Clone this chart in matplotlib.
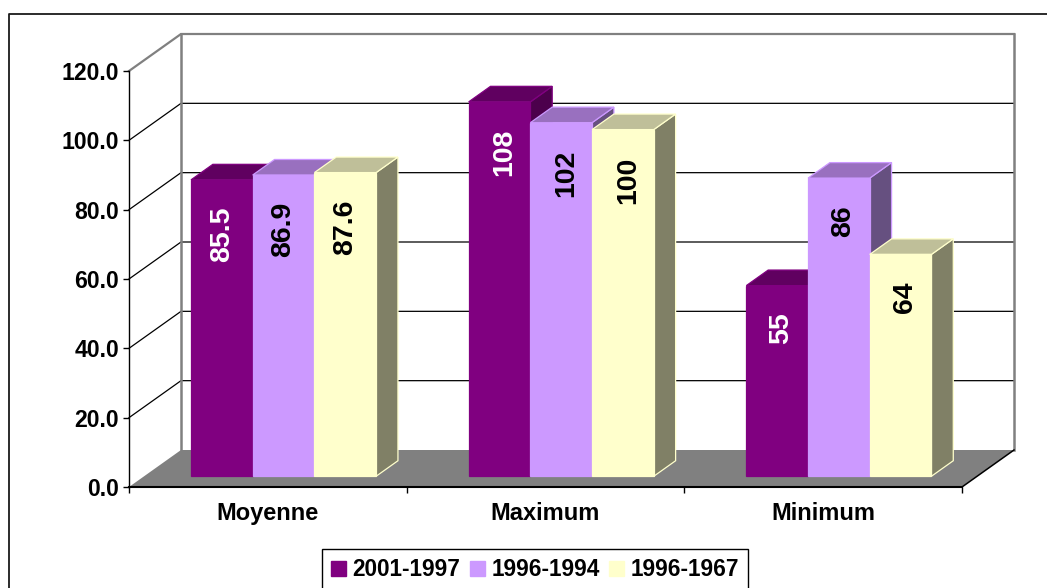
import matplotlib
matplotlib.use('Agg')
import matplotlib.pyplot as plt
from matplotlib.lines import Line2D
from matplotlib.patches import Patch, Polygon

plt.rcParams['font.family'] = ['Liberation Sans', 'DejaVu Sans']
plt.rcParams['font.weight'] = 'bold'

# data
categories = ['Moyenne', 'Maximum', 'Minimum']
series_names = ['2001-1997', '1996-1994', '1996-1967']
values_2001_1997 = [85.5, 108, 55]
values_1996_1994 = [86.9, 102, 86]
values_1996_1967 = [87.6, 100, 64]
y_ticks = [0, 20, 40, 60, 80, 100, 120]

# (face, top, side, label colour) of each series
front_colors = ['#800080', '#CC99FF', '#FFFFCC']
top_colors = ['#600060', '#9970BF', '#BFBF99']
side_colors = ['#4C004C', '#665080', '#808066']
label_colors = ['white', 'black', 'black']

W, H = 1047, 588
AX_LEFT, AX_RIGHT, AX_TOP, AX_BOTTOM = 129, 962, 71, 487

# one unit of depth moves a point by this many pixels
DEPTH_DX_PX, DEPTH_DY_PX = 52, -37
PX_PER_X = (AX_RIGHT - AX_LEFT) / len(categories)
PX_PER_Y = (AX_BOTTOM - AX_TOP) / y_ticks[-1]


def project(x, y, depth=0.0):
    """Shift a data point backwards by depth (0 = front of the box, 1 = back wall)"""
    return (x + depth * DEPTH_DX_PX / PX_PER_X, y - depth * DEPTH_DY_PX / PX_PER_Y)


def draw_bar(ax, x, width, value, color_idx):
    d0, d1 = 0.29, 0.71
    top = value
    edge = front_colors[color_idx]
    side = [project(x + width, 0, d0), project(x + width, 0, d1),
            project(x + width, top, d1), project(x + width, top, d0)]
    roof = [project(x, top, d0), project(x + width, top, d0),
            project(x + width, top, d1), project(x, top, d1)]
    front = [project(x, 0, d0), project(x + width, 0, d0),
             project(x + width, top, d0), project(x, top, d0)]
    for points, color in [(side, side_colors[color_idx]),
                          (roof, top_colors[color_idx]),
                          (front, front_colors[color_idx])]:
        ax.add_patch(Polygon(points, closed=True, facecolor=color, edgecolor=edge,
                             linewidth=0.9, clip_on=False, zorder=3))
    return project(x + width / 2, top, d0)


fig = plt.figure(figsize=(W / 100, H / 100), dpi=100, facecolor='white')
ax = fig.add_axes([AX_LEFT / W, (H - AX_BOTTOM) / H,
                   (AX_RIGHT - AX_LEFT) / W, (AX_BOTTOM - AX_TOP) / H])
ax.set_xlim(0, len(categories))
ax.set_ylim(y_ticks[0], y_ticks[-1])
ax.patch.set_visible(False)

# outer frame, only the top and left sides are in the picture
fig.add_artist(Line2D([8.5 / W, 8.5 / W, 1], [0, 1 - 13.5 / H, 1 - 13.5 / H],
                      color='#1A1A1A', linewidth=1.3))

# floor
n = len(categories)
floor = [project(0, 0, 0), project(n, 0, 0), project(n, 0, 1), project(0, 0, 1)]
ax.add_patch(Polygon(floor, closed=True, facecolor='#808080', edgecolor='none',
                     clip_on=False, zorder=1))
x0, y0 = zip(project(n, 0, 0), project(n, 0, 1))
ax.plot(x0, y0, color='black', linewidth=1.1, clip_on=False, zorder=2)

# walls and gridlines
for tick in y_ticks[1:]:
    color = '#808080' if tick == y_ticks[-1] else 'black'
    width = 1.6 if tick == y_ticks[-1] else 0.9
    xs, ys = zip(project(0, tick, 0), project(0, tick, 1), project(n, tick, 1))
    ax.plot(xs, ys, color=color, linewidth=width, clip_on=False, zorder=1.5,
            solid_joinstyle='miter')
for x_wall in (0, n):
    xs, ys = zip(project(x_wall, 0, 1), project(x_wall, y_ticks[-1], 1))
    ax.plot(xs, ys, color='#808080', linewidth=1.8, clip_on=False, zorder=1.6)

# bars
all_series = [values_2001_1997, values_1996_1994, values_1996_1967]
bar_width = 61.7 / PX_PER_X
bar_start = 0.169
label_nudge_px = [0, 5, 4]
for i in range(n):
    for j, series in enumerate(all_series):
        x = i + bar_start + j * bar_width
        cx, cy = draw_bar(ax, x, bar_width, series[i], j)
        ax.text(cx + label_nudge_px[i] / PX_PER_X, cy - 27 / PX_PER_Y, str(series[i]),
                rotation=90, ha='center', va='top', fontsize=20.5, fontweight='bold',
                color=label_colors[j], zorder=4)

# axes
for name in ('top', 'right'):
    ax.spines[name].set_visible(False)
ax.spines['left'].set_linewidth(1.0)
ax.spines['bottom'].set_linewidth(1.5)
ax.spines['left'].set_zorder(5)
ax.spines['bottom'].set_zorder(5)
ax.set_yticks(y_ticks)
ax.set_yticklabels([f'{t:.1f}' for t in y_ticks], fontsize=16.6, fontweight='bold')
ax.set_xticks(range(n + 1))
ax.set_xticklabels([])
ax.set_xticks([i + 0.5 for i in range(n)], minor=True)
ax.set_xticklabels(categories, minor=True, fontsize=17, fontweight='bold')
ax.tick_params(axis='x', which='major', length=4.5, width=1.0)
ax.tick_params(axis='x', which='minor', length=0, pad=10.5)
ax.tick_params(axis='y', which='major', length=4, width=1.0, pad=3)

# legend runs off the bottom edge of the figure
handles = [Patch(facecolor=c, edgecolor=c, label=name)
           for c, name in zip(front_colors, series_names)]
fig.legend(handles=handles, ncol=3, loc='upper left',
           bbox_to_anchor=(322 / W, 1 - 549 / H), bbox_transform=fig.transFigure,
           prop={'family': 'Liberation Sans', 'weight': 'bold', 'size': 16.3},
           frameon=True, fancybox=False, framealpha=1, edgecolor='black',
           handlelength=0.65, handleheight=0.65, handletextpad=0.3,
           columnspacing=0.42, borderpad=0.4, borderaxespad=0)

fig.savefig('out.png', dpi=100, facecolor='white')
plt.close(fig)
